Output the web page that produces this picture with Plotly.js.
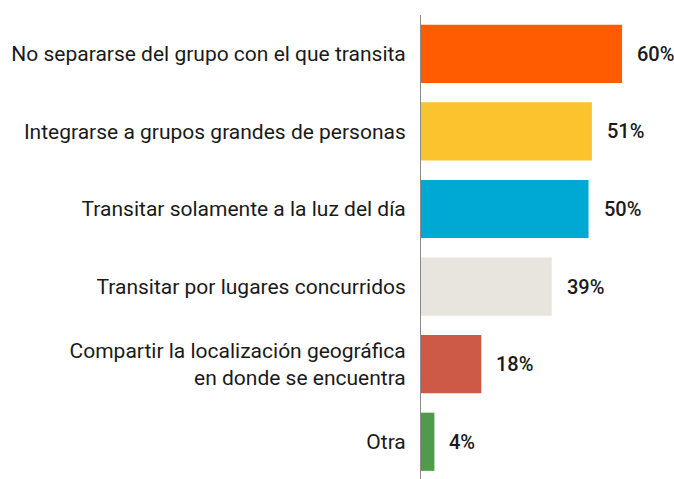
<!DOCTYPE html>
<html>
<head>
<meta charset="utf-8">
<script src="https://cdn.plot.ly/plotly-3.0.1.min.js"></script>
<style>html,body{margin:0;padding:0;background:#fff;}#chart{width:674px;height:479px;}</style>
</head>
<body>
<div id="chart"></div>
<script>
var categories = [
  "No separarse del grupo con el que transita",
  "Integrarse a grupos grandes de personas",
  "Transitar solamente a la luz del día",
  "Transitar por lugares concurridos",
  "Compartir la localización geográfica<br>en donde se encuentra",
  "Otra"
];
var values = [60, 51, 50, 39, 18, 4];
var valueLabels = ["60%", "51%", "50%", "39%", "18%", "4%"];
var colors = ["#FF5B00", "#FBC42F", "#00A9D3", "#E8E4DE", "#CD5A47", "#4F9A4C"];

var trace = {
  type: "bar",
  orientation: "h",
  y: categories,
  x: values,
  marker: {color: colors, line: {width: 0}},
  width: 0.75,
  hoverinfo: "none"
};

var annotations = values.map(function(v, i) {
  return {
    x: v, y: categories[i], xref: "x", yref: "y",
    text: valueLabels[i], showarrow: false,
    xanchor: "left", yanchor: "middle", xshift: 13,
    font: {family: "Roboto, sans-serif", size: 20, color: "#1a1a1a", weight: 500}
  };
});

var layout = {
  width: 674, height: 479,
  margin: {l: 421, r: 0, t: 15, b: 0, pad: 0},
  paper_bgcolor: "#fff", plot_bgcolor: "#fff",
  showlegend: false,
  font: {family: "Roboto, sans-serif", size: 21, color: "#1a1a1a"},
  xaxis: {range: [0, 75.5], showgrid: false, zeroline: false, showticklabels: false, showline: false, ticks: "", fixedrange: true},
  yaxis: {range: [5.48, -0.5], showgrid: false, zeroline: false, showline: true, linecolor: "#8a8a8a", linewidth: 1,
          ticks: "outside", ticklen: 10, tickcolor: "rgba(0,0,0,0)",
          tickfont: {family: "Roboto, sans-serif", size: 21, color: "#1a1a1a"}},
  annotations: annotations
};

Plotly.newPlot("chart", [trace], layout, {displayModeBar: false, staticPlot: true});
</script>
</body>
</html>
